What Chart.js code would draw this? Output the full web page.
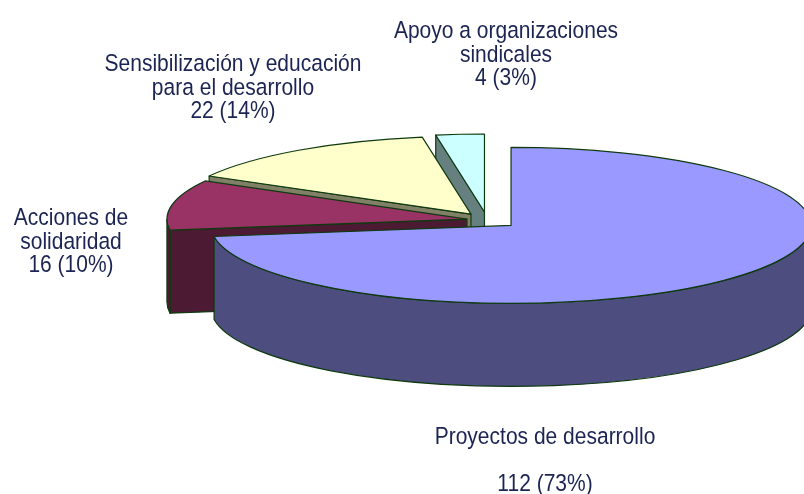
<!DOCTYPE html>
<html>
<head>
<meta charset="utf-8">
<script src="https://cdn.jsdelivr.net/npm/chart.js@4.4.1/dist/chart.umd.min.js"></script>
<style>
html,body{margin:0;padding:0;background:#ffffff;}
#wrap{width:804px;height:494px;}
</style>
</head>
<body>
<div id="wrap"><canvas id="c" width="804" height="494"></canvas></div>
<script>
// ---- data ----
const categories = [
  ['Proyectos de desarrollo', ''],
  ['Acciones de', 'solidaridad'],
  ['Sensibilización y educación', 'para el desarrollo'],
  ['Apoyo a organizaciones', 'sindicales']
];
const values = [112, 16, 22, 4];
const sliceColors = ['#9999FF', '#993366', '#FFFFCC', '#CCFFFF'];

function shade(hex, f) {
  const n = parseInt(hex.slice(1), 16);
  const r = Math.round(((n >> 16) & 255) * f);
  const g = Math.round(((n >> 8) & 255) * f);
  const b = Math.round((n & 255) * f);
  return 'rgb(' + r + ',' + g + ',' + b + ')';
}

// Draws the library's arc elements as an exploded 3D pie (tilted ellipse with depth)
const pie3d = {
  id: 'pie3d',
  beforeDatasetsDraw(chart, args, o) {
    const ctx = chart.ctx;
    const meta = chart.getDatasetMeta(0);
    const ds = chart.data.datasets[0];
    const RX = o.rx, RY = o.ry, D = o.depth;
    const slices = meta.data.map((arc, i) => {
      const p = arc.getProps(['x', 'y', 'startAngle', 'endAngle', 'outerRadius'], true);
      const mid = (p.startAngle + p.endAngle) / 2;
      const R = p.outerRadius;
      const e = o.explode[i] * R;
      const px = p.x + Math.cos(mid) * e, py = p.y + Math.sin(mid) * e;
      const v = [o.cx + (px - p.x) * RX / R, o.cy + (py - p.y) * RY / R];
      return { i, s: p.startAngle, t: p.endAngle, mid, v, color: ds.backgroundColor[i] };
    });
    slices.sort((a, b) => Math.sin(a.mid) - Math.sin(b.mid));
    ctx.save();
    ctx.lineWidth = o.lineWidth;
    ctx.strokeStyle = o.lineColor;
    ctx.lineJoin = 'round';
    const fillStroke = (c) => { ctx.fillStyle = c; ctx.fill(); ctx.stroke(); };
    for (const sl of slices) {
      const side = shade(sl.color, 0.5);
      const vx = sl.v[0], vy = sl.v[1];
      const faces = [];
      if (Math.cos(sl.s) < -1e-6) faces.push(sl.s);
      if (Math.cos(sl.t) > 1e-6) faces.push(sl.t);
      for (const a of faces) {
        const rx = vx + RX * Math.cos(a), ry = vy + RY * Math.sin(a);
        ctx.beginPath();
        ctx.moveTo(vx, vy);
        ctx.lineTo(rx, ry);
        ctx.lineTo(rx, ry + D);
        ctx.lineTo(vx, vy + D);
        ctx.closePath();
        fillStroke(side);
      }
      for (const [lo, hi] of [[0, Math.PI], [2 * Math.PI, 3 * Math.PI], [-2 * Math.PI, -Math.PI]]) {
        const a0 = Math.max(sl.s, lo), a1 = Math.min(sl.t, hi);
        if (a1 - a0 > 1e-6) {
          ctx.beginPath();
          ctx.ellipse(vx, vy, RX, RY, 0, a0, a1, false);
          ctx.ellipse(vx, vy + D, RX, RY, 0, a1, a0, true);
          ctx.closePath();
          fillStroke(side);
        }
      }
      ctx.beginPath();
      ctx.moveTo(vx, vy);
      ctx.ellipse(vx, vy, RX, RY, 0, sl.s, sl.t, false);
      ctx.closePath();
      fillStroke(sl.color);
    }
    ctx.restore();
    return false;
  },
  afterDraw(chart, args, o) {
    const ctx = chart.ctx;
    const vals = chart.data.datasets[0].data;
    const total = vals.reduce((a, b) => a + b, 0);
    ctx.save();
    ctx.font = o.font;
    ctx.fillStyle = o.textColor;
    ctx.textAlign = 'center';
    ctx.textBaseline = 'alphabetic';
    chart.data.labels.forEach((lines, i) => {
      const all = lines.concat([vals[i] + ' (' + Math.round(vals[i] / total * 100) + '%)']);
      const pos = o.labelPos[i];
      all.forEach((t, k) => {
        ctx.save();
        ctx.translate(pos[0], pos[1] + k * o.lineHeight);
        ctx.scale(1, o.textStretch);
        ctx.fillText(t, 0, 0);
        ctx.restore();
      });
    });
    ctx.restore();
  }
};

new Chart(document.getElementById('c'), {
  type: 'pie',
  data: {
    labels: categories,
    datasets: [{ data: values, backgroundColor: sliceColors, borderWidth: 0 }]
  },
  options: {
    responsive: false,
    animation: false,
    events: [],
    plugins: {
      legend: { display: false },
      tooltip: { enabled: false },
      pie3d: {
        cx: 487, cy: 220, rx: 300, ry: 78, depth: 83,
        explode: [0.106, 0.068, 0.093, 0.103],
        lineWidth: 1.2, lineColor: '#0f3a0f',
        font: '21px "Liberation Sans", Arial, sans-serif',
        textColor: '#1b2452', lineHeight: 23.5, textStretch: 1.13,
        labelPos: [[545, 444], [71, 225], [233, 71], [506, 38]]
      }
    }
  },
  plugins: [pie3d]
});
</script>
</body>
</html>
